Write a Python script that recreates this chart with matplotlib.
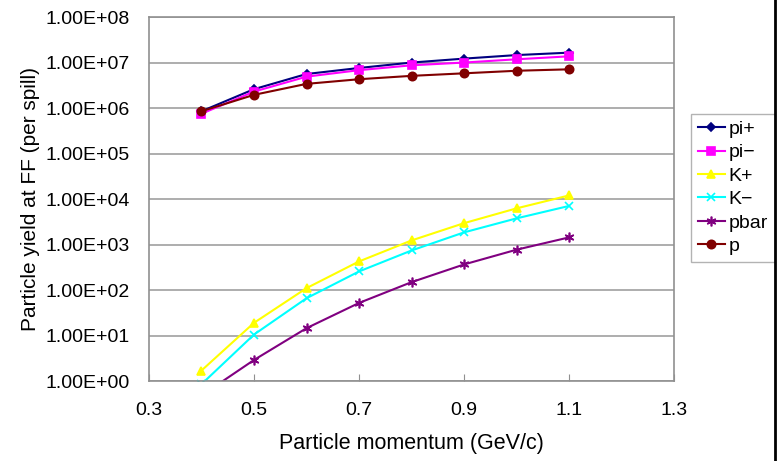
import numpy as np
import matplotlib
matplotlib.use("Agg")
import matplotlib.pyplot as plt
from matplotlib.ticker import FuncFormatter, FixedLocator
from matplotlib.lines import Line2D

plt.rcParams['font.family'] = ['Liberation Sans', 'DejaVu Sans']

# momentum (GeV/c)
momentum = [0.4, 0.5, 0.6, 0.7, 0.8, 0.9, 1.0, 1.1]

# particle yields per spill
pi_plus = [8.5e5, 2.6e6, 5.6e6, 7.6e6, 1.0e7, 1.22e7, 1.46e7, 1.65e7]
pi_minus = [7.5e5, 2.3e6, 4.9e6, 6.8e6, 8.7e6, 1.0e7, 1.18e7, 1.37e7]
k_plus = [1.7, 19, 110, 425, 1230, 2950, 6240, 1.2e4]
k_minus = [0.85, 10.5, 66, 256, 740, 1850, 3760, 7050]
pbar = [0.48, 2.9, 14.5, 52, 149, 365, 770, 1435]
proton = [8.5e5, 1.95e6, 3.4e6, 4.3e6, 5.1e6, 5.8e6, 6.6e6, 7.1e6]

series = [
    ("pi+", pi_plus, "#000080", "D", 4),
    ("pi\u2212", pi_minus, "#FF00FF", "s", 6),
    ("K+", k_plus, "#FFFF00", "^", 6),
    ("K\u2212", k_minus, "#00FFFF", "x", 6),
    ("pbar", pbar, "#800080", (6, 2, 0), 7),
    ("p", proton, "#800000", "o", 6),
]

fig = plt.figure(figsize=(7.82, 4.61), dpi=100)
ax = fig.add_axes([0.1905, 0.1735, 0.862 - 0.1905, 0.963 - 0.1735])

for name, vals, col, mk, ms in series:
    ax.plot(momentum, vals, color=col, marker=mk, markersize=ms,
            markeredgewidth=1.2, linewidth=1.5, label=name)

ax.set_yscale("log")
ax.set_ylim(1, 1e8)
ax.set_xlim(0.3, 1.3)
ax.xaxis.set_major_locator(FixedLocator([0.3, 0.5, 0.7, 0.9, 1.1, 1.3]))
ax.xaxis.set_major_formatter(FuncFormatter(lambda v, p: f"{v:.1f}"))
ax.yaxis.set_major_locator(FixedLocator([10.0 ** k for k in range(0, 9)]))
ax.yaxis.set_minor_locator(FixedLocator([]))
ax.yaxis.set_major_formatter(FuncFormatter(lambda v, p: f"{v:.2E}"))

ax.grid(True, axis="y", color="#a0a0a0", linewidth=1.2)
for s in ax.spines.values():
    s.set_color("#909090")
    s.set_linewidth(1.2)
ax.tick_params(axis="x", direction="in", length=5, color="#909090",
               labelsize=14, pad=15)
ax.tick_params(axis="y", length=0, labelsize=14, pad=14)

ax.set_xlabel("Particle momentum (GeV/c)", fontsize=15.5, labelpad=10)
ax.set_ylabel("Particle yield at FF (per spill)", fontsize=15, labelpad=4)

leg = ax.legend(loc="upper left", bbox_to_anchor=(1.032, 0.735), fontsize=14,
                frameon=True, fancybox=False, edgecolor="#a0a0a0",
                handlelength=1.4, handletextpad=0.2, labelspacing=0.3,
                borderpad=0.35, borderaxespad=0)
leg.get_frame().set_linewidth(1.0)

fig.add_artist(Line2D([775 / 782, 775 / 782], [0, 1], color="black",
                      linewidth=2, transform=fig.transFigure))

fig.savefig("out.png", dpi=100)
